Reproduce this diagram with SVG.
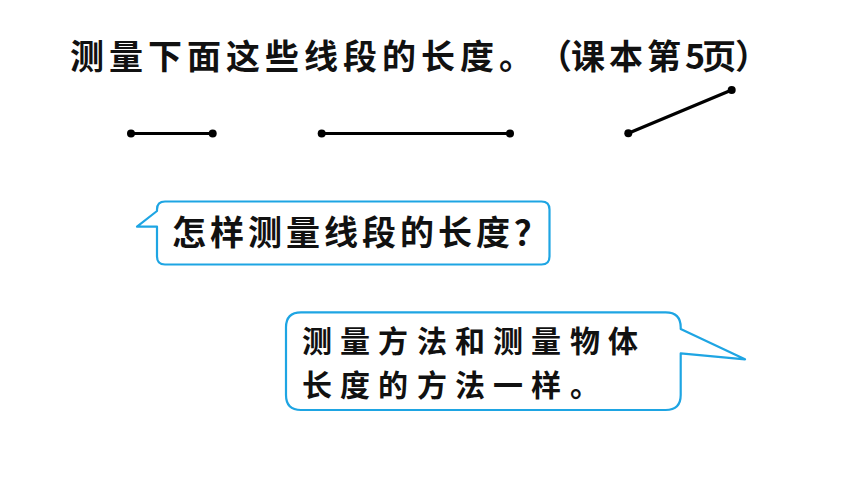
<svg xmlns="http://www.w3.org/2000/svg" width="860" height="484" viewBox="0 0 860 484">
<style>
.t{font-family:"Noto Sans CJK SC","Noto Sans CJK JP",sans-serif;font-size:34px;font-weight:bold;fill:#111}
.t2{font-size:30px}
.seg{stroke:#000;stroke-width:3.2;stroke-linecap:round;fill:none}
.dot{fill:#000}
.bub{fill:#fff;stroke:#1ea5e3;stroke-width:2.2;stroke-linejoin:round}
</style>
<rect width="860" height="484" fill="#fff"/>
<g id="title">
<text class="t" y="69" x="70 109 148 187 226 265 304 343 382 421 460 499">测量下面这些线段的长度。</text>
<text class="t" y="69" x="538 571 609 647 685 702 735">（课本第5页）</text>
</g>
<g id="segments">
<line class="seg" x1="131" y1="133.5" x2="212.7" y2="133.5"/>
<circle class="dot" cx="131" cy="133.5" r="4"/>
<circle class="dot" cx="212.7" cy="133.5" r="4"/>
<line class="seg" x1="321.7" y1="133.5" x2="510" y2="133.5"/>
<circle class="dot" cx="321.7" cy="133.5" r="4"/>
<circle class="dot" cx="510" cy="133.5" r="4"/>
<line class="seg" x1="628.3" y1="133.3" x2="731.7" y2="90"/>
<circle class="dot" cx="628.3" cy="133.3" r="4"/>
<circle class="dot" cx="731.7" cy="90" r="4"/>
</g>
<g id="bubble1">
<path class="bub" d="M165 201.5 H541.5 Q549.5 201.5 549.5 209.5 V256.5 Q549.5 264.5 541.5 264.5 H165 Q157 264.5 157 256.5 V226.7 L137 226.7 L157 211 V209.5 Q157 201.5 165 201.5 Z"/>
<text class="t" y="245" x="172 210 248 286 324 362 400 438 476 514">怎样测量线段的长度？</text>
</g>
<g id="bubble2">
<path class="bub" d="M301 312.3 H665.7 Q680.7 312.3 680.7 327.3 V329 L745 359.3 L680.7 353.3 V395 Q680.7 410 665.7 410 H301 Q286 410 286 395 V327.3 Q286 312.3 301 312.3 Z"/>
<text class="t t2"><tspan y="352" x="302 340 378 417 455 493 531 570 608">测量方法和测量物体</tspan><tspan y="395.6" x="302 340 378 417 455 493 531 570">长度的方法一样。</tspan></text>
</g>
</svg>
